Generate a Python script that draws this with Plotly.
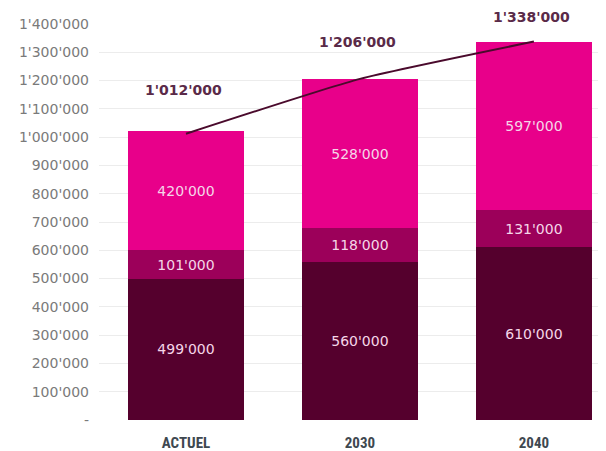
import plotly.graph_objects as go

categories = ["ACTUEL", "2030", "2040"]
bottom_vals = [499000, 560000, 610000]
middle_vals = [101000, 118000, 131000]
top_vals = [420000, 528000, 597000]
totals = [1012000, 1206000, 1338000]
tick_vals = [0, 100000, 200000, 300000, 400000, 500000, 600000, 700000,
             800000, 900000, 1000000, 1100000, 1200000, 1300000, 1400000]
tick_text = ["-", "100'000", "200'000", "300'000", "400'000", "500'000", "600'000",
             "700'000", "800'000", "900'000", "1'000'000", "1'100'000", "1'200'000",
             "1'300'000", "1'400'000"]


def fmt(v):
    return f"{v:,}".replace(",", "'")


colors = ["#55002d", "#9c005a", "#e8008a"]
seg_font = dict(family="DejaVu Sans", size=14, color="#f5d6e8")

fig = go.Figure()
for vals, col in zip([bottom_vals, middle_vals, top_vals], colors):
    fig.add_trace(go.Bar(
        x=categories, y=vals, marker=dict(color=col, line=dict(width=0)),
        text=[fmt(v) for v in vals], textposition="inside",
        insidetextanchor="middle", textfont=seg_font, width=0.667,
        hoverinfo="skip", showlegend=False,
    ))

fig.add_trace(go.Scatter(
    x=categories, y=totals, mode="lines",
    line=dict(color="#4a0a2c", width=2, shape="spline", smoothing=0.5),
    showlegend=False, hoverinfo="skip",
))

label_shifts = [44, 37, 25]
for i, (t, s) in enumerate(zip(totals, label_shifts)):
    fig.add_annotation(x=i, y=t, xref="x", yref="y", text=f"<b>{fmt(t)}</b>",
                       showarrow=False, yshift=s, xshift=-2,
                       font=dict(family="DejaVu Sans", size=14, color="#5a2a48"))

fig.update_layout(
    barmode="stack",
    width=598, height=443,
    margin=dict(l=91, r=6, t=16, b=31),
    paper_bgcolor="white", plot_bgcolor="white",
    xaxis=dict(type="category", range=[-0.5, 2.38], showgrid=False, showline=False,
               ticks="", ticklabelstandoff=12, automargin=False,
               tickfont=dict(family="Liberation Sans Narrow, Roboto Condensed, Roboto",
                             size=15, color="#3e4850", weight="bold")),
    yaxis=dict(range=[0, 1400000], tickvals=tick_vals, ticktext=tick_text,
               showgrid=True, gridcolor="#ececec", gridwidth=1, zeroline=False,
               ticks="", ticklabelstandoff=9, automargin=False,
               tickfont=dict(family="DejaVu Sans", size=14, color="#7a7a7a")),
)

fig.write_html("out.html")
